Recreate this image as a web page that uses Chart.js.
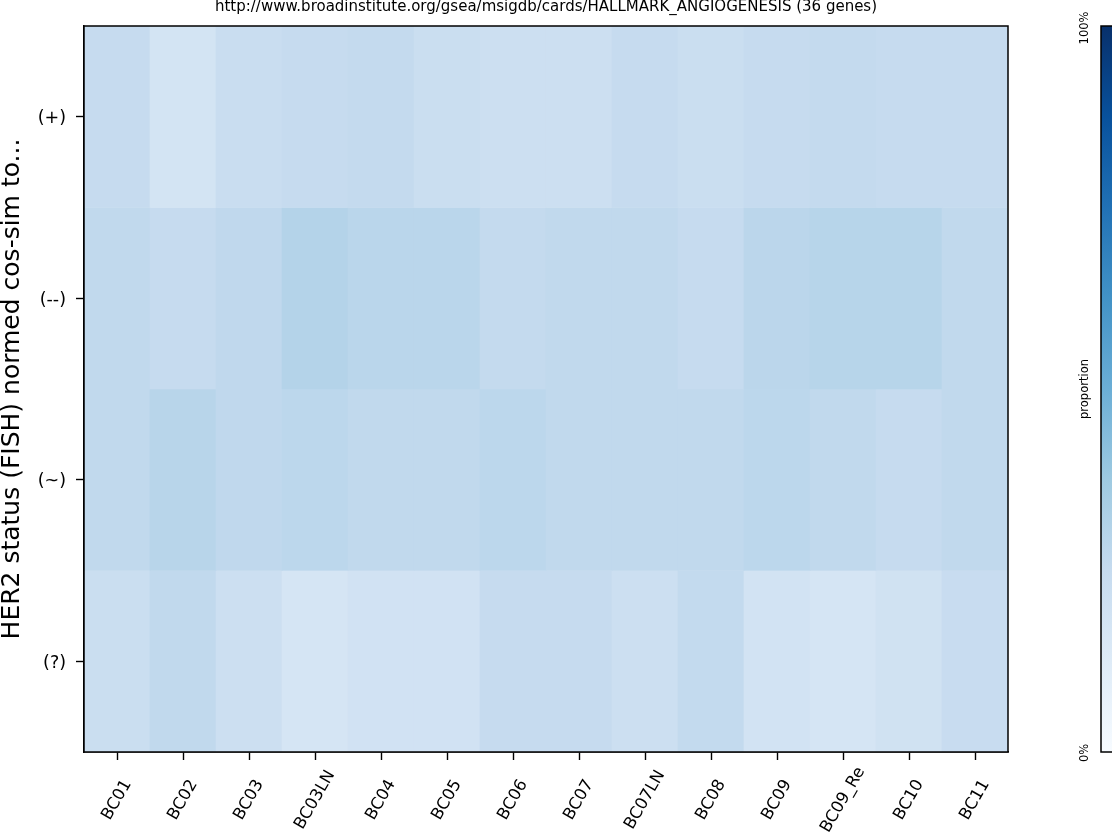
<!DOCTYPE html>
<html>
<head>
<meta charset="utf-8">
<script src="https://cdn.jsdelivr.net/npm/chart.js@4.4.1/dist/chart.umd.min.js"></script>
<style>
  html, body { margin: 0; padding: 0; background: #fff; }
  canvas { display: block; }
</style>
</head>
<body>
<canvas id="heatmap" width="1112" height="836"></canvas>
<script>
const samples = ["BC01", "BC02", "BC03", "BC03LN", "BC04", "BC05", "BC06", "BC07", "BC07LN", "BC08", "BC09", "BC09_Re", "BC10", "BC11"];
const statusLabels = ["(+)", "(--)", "(~)", "(?)"];

// proportion per sample, one array per HER2 status row
const rowPlus = [0.25, 0.18, 0.235, 0.25, 0.255, 0.23, 0.22, 0.22, 0.25, 0.23, 0.25, 0.255, 0.25, 0.25];
const rowMinus = [0.266, 0.25, 0.27, 0.306, 0.288, 0.288, 0.256, 0.266, 0.266, 0.25, 0.284, 0.297, 0.297, 0.266];
const rowTilde = [0.266, 0.294, 0.27, 0.281, 0.266, 0.266, 0.281, 0.266, 0.266, 0.266, 0.281, 0.266, 0.25, 0.266];
const rowUnknown = [0.23, 0.266, 0.22, 0.172, 0.193, 0.193, 0.25, 0.25, 0.22, 0.26, 0.188, 0.172, 0.198, 0.24];
const rows = [rowPlus, rowMinus, rowTilde, rowUnknown];

const cbarTicks = ["0%", "100%"];

// matplotlib "Blues"
const bluesStops = ["#f7fbff", "#deebf7", "#c6dbef", "#9ecae1", "#6baed6", "#4292c6", "#2171b5", "#08519c", "#08306b"];

function hexRgb(h) {
  return [parseInt(h.slice(1, 3), 16), parseInt(h.slice(3, 5), 16), parseInt(h.slice(5, 7), 16)];
}

function blues(v) {
  v = Math.max(0, Math.min(1, v));
  const pos = v * (bluesStops.length - 1);
  const i = Math.min(Math.floor(pos), bluesStops.length - 2);
  const t = pos - i;
  const a = hexRgb(bluesStops[i]), b = hexRgb(bluesStops[i + 1]);
  const c = a.map((x, k) => Math.round(x + (b[k] - x) * t));
  return "rgb(" + c.join(",") + ")";
}

const datasets = rows.map((vals, r) => ({
  label: statusLabels[r],
  data: samples.map(() => [r, r + 1]),
  backgroundColor: vals.map(blues),
  borderWidth: 0,
  grouped: false,
  barPercentage: 1,
  categoryPercentage: 1,
}));

const font = "'DejaVu Sans', sans-serif";

const extras = {
  id: "extras",
  afterDraw(chart) {
    const ctx = chart.ctx;
    const area = chart.chartArea;
    const xs = chart.scales.x;
    ctx.save();

    // frame
    ctx.strokeStyle = "#000";
    ctx.lineWidth = 1.5;
    ctx.strokeRect(area.left, area.top, area.right - area.left, area.bottom - area.top);

    // title
    ctx.fillStyle = "#000";
    ctx.font = "15px " + font;
    ctx.textAlign = "center";
    ctx.textBaseline = "middle";
    ctx.fillText("http://www.broadinstitute.org/gsea/msigdb/cards/HALLMARK_ANGIOGENESIS (36 genes)", (area.left + area.right) / 2, 7);

    // rotated sample labels, centred under each tick
    ctx.font = "16.5px " + font;
    samples.forEach((s, i) => {
      const x = xs.getPixelForValue(i);
      ctx.save();
      ctx.translate(x, 800);
      ctx.rotate(-Math.PI / 3);
      ctx.textAlign = "center";
      ctx.textBaseline = "middle";
      ctx.fillText(s, 0, 0);
      ctx.restore();
    });

    // colorbar
    const cx = 1101, cw = 30;
    const grad = ctx.createLinearGradient(0, area.bottom, 0, area.top);
    bluesStops.forEach((c, i) => grad.addColorStop(i / (bluesStops.length - 1), c));
    ctx.fillStyle = grad;
    ctx.fillRect(cx, area.top, cw, area.bottom - area.top);
    ctx.strokeRect(cx, area.top, cw, area.bottom - area.top);

    ctx.fillStyle = "#000";
    ctx.font = "11.5px " + font;
    const labelX = 1085;
    [[cbarTicks[1], area.top + 2], ["proportion", (area.top + area.bottom) / 2], [cbarTicks[0], area.bottom + 1]].forEach(([t, y]) => {
      ctx.save();
      ctx.translate(labelX, y);
      ctx.rotate(-Math.PI / 2);
      ctx.textAlign = "center";
      ctx.textBaseline = "middle";
      ctx.fillText(t, 0, 0);
      ctx.restore();
    });
    ctx.restore();
  },
};

new Chart(document.getElementById("heatmap").getContext("2d"), {
  type: "bar",
  data: { labels: samples, datasets: datasets },
  options: {
    responsive: false,
    animation: false,
    layout: { padding: { top: 26, right: 104, left: 0, bottom: 0 } },
    scales: {
      x: {
        type: "category",
        offset: true,
        grid: { offset: false, drawOnChartArea: false, drawTicks: true, tickLength: 8, tickColor: "#000", tickWidth: 1.4 },
        border: { color: "#000", width: 1.5 },
        ticks: { display: false },
        afterFit(scale) { scale.height = 84; },
      },
      y: {
        type: "linear",
        min: 0,
        max: 4,
        reverse: true,
        grid: { drawOnChartArea: false, drawTicks: true, tickLength: 8, tickColor: "#000", tickWidth: 1.4 },
        border: { color: "#000", width: 1.5 },
        afterBuildTicks(scale) {
          scale.ticks = statusLabels.map((_, i) => ({ value: i + 0.5 }));
        },
        ticks: {
          color: "#000",
          font: { family: font, size: 17.5 },
          padding: 10,
          labelOffset: 2,
          callback: (v) => statusLabels[Math.floor(v)],
        },
        title: {
          display: true,
          text: "HER2 status (FISH) normed cos-sim to...",
          color: "#000",
          font: { family: font, size: 25, lineHeight: 1 },
          padding: { top: 0, bottom: 0 },
        },
        afterFit(scale) { scale.width = 84; },
      },
    },
    plugins: {
      legend: { display: false },
      tooltip: { enabled: false },
    },
  },
  plugins: [extras],
});
</script>
</body>
</html>
